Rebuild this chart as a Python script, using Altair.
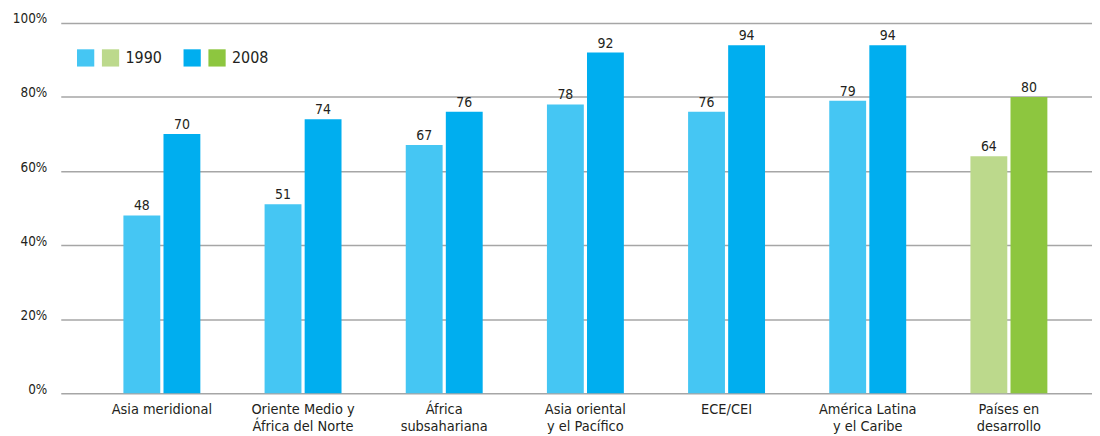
import altair as alt
import pandas as pd

categories = ["Asia meridional", "Oriente Medio y|África del Norte", "África|subsahariana",
              "Asia oriental|y el Pacífico", "ECE/CEI", "América Latina|y el Caribe", "Países en|desarrollo"]
groups = ["b", "b", "b", "b", "b", "b", "g"]
years = ["1990", "2008"]
values_1990 = [48, 51, 67, 78, 76, 79, 64]
values_2008 = [70, 74, 76, 92, 94, 94, 80]

keys_1990 = ["b1990", "g1990"]
colors_1990 = ["#45C6F3", "#BCD98C"]
keys_2008 = ["b2008", "g2008"]
colors_2008 = ["#00AEEF", "#8DC63F"]

rows = []
for c, g, a, b in zip(categories, groups, values_1990, values_2008):
    rows.append({"cat": c, "year": years[0], "value": a, "key": g + years[0]})
    rows.append({"cat": c, "year": years[1], "value": b, "key": g + years[1]})
df = pd.DataFrame(rows)

FONT = "DejaVu Sans Condensed"
TXT = "#231F20"

x_enc = alt.X("cat:N", sort=categories,
              scale=alt.Scale(paddingInner=0.455, paddingOuter=0.38, align=0.584),
              axis=alt.Axis(title=None, domain=False, ticks=False, labelAngle=0,
                            labelExpr="split(datum.label, '|')", labelFont=FONT,
                            labelFontSize=14.5, labelColor=TXT, labelPadding=9,
                            labelLineHeight=17, labelBaseline="top"))
xoff = alt.XOffset("year:N", sort=years, scale=alt.Scale(domain=years, paddingInner=0.08))
y_enc = alt.Y("value:Q", scale=alt.Scale(domain=[0, 100], nice=False),
              axis=alt.Axis(title=None, values=[0, 20, 40, 60, 80, 100],
                            labelExpr="datum.value + '%'", grid=True, gridColor="#A6A6A6",
                            gridWidth=1.5, domain=False, ticks=False, labelPadding=14,
                            labelFont=FONT, labelFontSize=13.5, labelColor=TXT,
                            labelBaseline="alphabetic"))


def legend(x, label):
    return alt.Legend(orient="none", legendX=x, legendY=26, direction="horizontal",
                      title=None, symbolType="square", symbolSize=300,
                      symbolStrokeWidth=0, symbolOpacity=1,
                      labelExpr="datum.value == 'g%s' ? '%s' : ''" % (label, label),
                      labelFont=FONT, labelFontSize=16, labelColor=TXT,
                      labelOffset=6, columnPadding=1, padding=0)


bars_1990 = alt.Chart(df[df["year"] == years[0]]).mark_bar().encode(
    x=x_enc, xOffset=xoff, y=y_enc,
    fill=alt.Fill("key:N", scale=alt.Scale(domain=keys_1990, range=colors_1990),
                  legend=legend(16, years[0]))
)
bars_2008 = alt.Chart(df[df["year"] == years[1]]).mark_bar().encode(
    x=x_enc, xOffset=xoff, y=y_enc,
    color=alt.Color("key:N", scale=alt.Scale(domain=keys_2008, range=colors_2008),
                    legend=legend(123, years[1]))
)

labels = alt.Chart(df).mark_text(dy=-5, baseline="alphabetic", font=FONT, fontSize=14,
                                 color=TXT).encode(
    x=alt.X("cat:N", sort=categories), xOffset=xoff, y="value:Q", text="value:Q"
)

chart = alt.layer(bars_1990, bars_2008, labels).properties(
    width=1036, height=372,
    padding={"left": 53, "top": 14, "right": 0, "bottom": 42},
    autosize=alt.AutoSizeParams(type="none"),
).configure_view(stroke=None)

chart.save("out.html", embed_options={"renderer": "svg", "actions": False})
